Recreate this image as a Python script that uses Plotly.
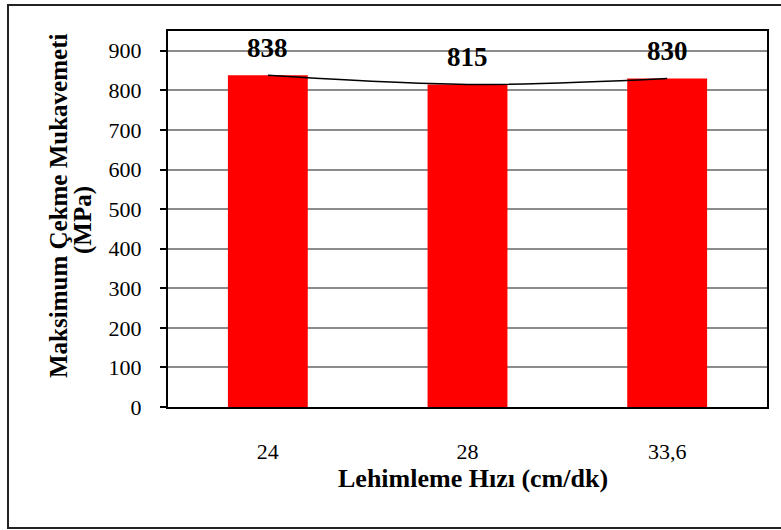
import plotly.graph_objects as go

# Brazing speed (cm/min) and maximum tensile strength (MPa)
speeds = ["24", "28", "33,6"]
strength = [838, 815, 830]
y_ticks = [0, 100, 200, 300, 400, 500, 600, 700, 800, 900]

FONT = "Liberation Serif, Times New Roman, serif"

fig = go.Figure()

fig.add_trace(go.Bar(
    x=speeds, y=strength,
    marker=dict(color="#ff0000", line=dict(width=0)),
    width=0.4,
    showlegend=False,
))

# smoothed trend line through the bar tops
fig.add_trace(go.Scatter(
    x=speeds, y=strength,
    mode="lines",
    line=dict(color="black", width=1.5, shape="spline", smoothing=1),
    showlegend=False,
))

annotations = []
for i, val in enumerate(strength):
    # category axes take the category index for annotation positions
    annotations.append(dict(
        x=i, y=val, xref="x", yref="y",
        text=f"<b>{val}</b>", showarrow=False,
        yanchor="middle", yshift=27,
        font=dict(family=FONT, size=27, color="black"),
    ))

# axis titles
annotations.append(dict(
    x=(473 - 168) / 599, y=(407 - 478) / 376, xref="paper", yref="paper",
    text="<b>Lehimleme Hızı (cm/dk)</b>", showarrow=False,
    xanchor="center", yanchor="middle",
    font=dict(family=FONT, size=26, color="black"),
))
annotations.append(dict(
    x=(58 - 168) / 599, y=(407 - 206) / 376, xref="paper", yref="paper",
    text="<b>Maksimum Çekme Mukavemeti</b>", showarrow=False, textangle=-90,
    xanchor="center", yanchor="middle",
    font=dict(family=FONT, size=25, color="black"),
))
annotations.append(dict(
    x=(83 - 168) / 599, y=(407 - 220) / 376, xref="paper", yref="paper",
    text="<b>(MPa)</b>", showarrow=False, textangle=-90,
    xanchor="center", yanchor="middle",
    font=dict(family=FONT, size=25, color="black"),
))

fig.update_layout(
    width=781, height=530,
    margin=dict(l=168, r=14, t=31, b=123),
    paper_bgcolor="white", plot_bgcolor="white",
    font=dict(family=FONT, color="black"),
    annotations=annotations,
    bargap=0.6,
    shapes=[dict(
        type="rect", xref="paper", yref="paper",
        x0=(8 - 168) / 599, x1=(790 - 168) / 599,
        y0=(407 - 528) / 376, y1=(407 - 5) / 376,
        line=dict(color="#222222", width=2), fillcolor="rgba(0,0,0,0)",
        layer="below",
    )],
)

fig.update_xaxes(
    type="category", range=[-0.5, 2.5],
    showline=True, linecolor="black", linewidth=2, mirror=True,
    ticks="", showgrid=False,
    tickfont=dict(family=FONT, size=22, color="black"),
    ticklabelstandoff=24,
)
fig.update_yaxes(
    range=[0, 950], tickvals=y_ticks,
    showline=True, linecolor="black", linewidth=2, mirror=True,
    ticks="outside", ticklen=6, tickcolor="black", tickwidth=1.5,
    showgrid=True, gridcolor="#8c8c8c", gridwidth=1.5,
    zeroline=False,
    tickfont=dict(family=FONT, size=22, color="black"),
    ticklabelstandoff=14,
)

fig.write_html("out.html")
